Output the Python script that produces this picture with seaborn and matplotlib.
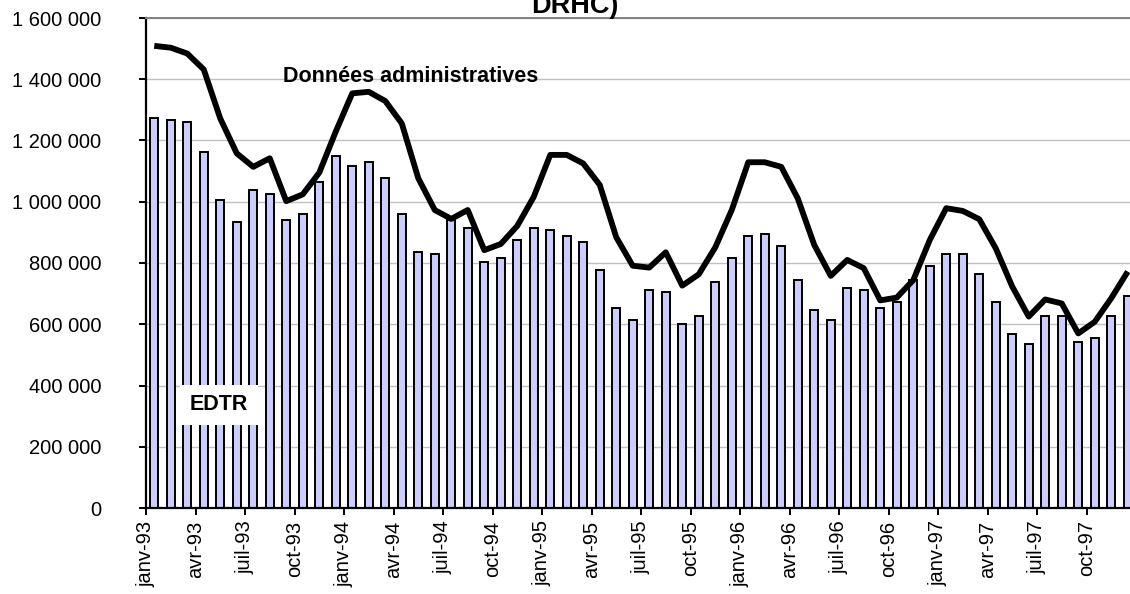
import numpy as np
import pandas as pd
import seaborn as sns
import matplotlib.pyplot as plt
from matplotlib.ticker import FuncFormatter

# Monthly values, janv-93 .. déc-97
mois = ["janv", "févr", "mars", "avr", "mai", "juin",
        "juil", "août", "sept", "oct", "nov", "déc"]
annees = ["93", "94", "95", "96", "97"]
labels = [f"{m}-{a}" for a in annees for m in mois]

edtr = [1272000, 1266000, 1259000, 1161000, 1005000, 933000, 1037000, 1024000, 939000, 959000, 1063000, 1148000,
        1116000, 1129000, 1076000, 959000, 835000, 828000, 940000, 913000, 802000, 815000, 874000, 913000,
        907000, 887000, 868000, 776000, 652000, 613000, 711000, 704000, 600000, 626000, 737000, 815000,
        887000, 894000, 855000, 744000, 646000, 613000, 717000, 711000, 652000, 672000, 743000, 789000,
        828000, 828000, 763000, 672000, 567000, 535000, 626000, 626000, 541000, 554000, 626000, 691000]

admin = [1509000, 1503000, 1484000, 1432000, 1272000, 1158000, 1114000, 1142000, 1002000, 1024000, 1095000, 1229000,
         1354000, 1359000, 1329000, 1256000, 1077000, 973000, 944000, 973000, 842000, 862000, 921000, 1016000,
         1153000, 1153000, 1125000, 1055000, 884000, 791000, 785000, 835000, 726000, 763000, 851000, 973000,
         1129000, 1129000, 1114000, 1011000, 859000, 758000, 810000, 783000, 678000, 687000, 744000, 875000,
         979000, 970000, 943000, 848000, 723000, 625000, 681000, 668000, 570000, 608000, 685000, 772000]

df = pd.DataFrame({"mois": labels, "pos": np.arange(len(labels)), "edtr": edtr, "admin": admin})

sns.set_theme(style="white")
plt.rcParams["font.family"] = ["Liberation Sans", "DejaVu Sans"]
plt.rcParams["text.color"] = "black"

W, H = 1130, 594
fig = plt.figure(figsize=(W / 100, H / 100), dpi=100)
ax = fig.add_axes([146 / W, 86 / H, 990 / W, 490 / H])

sns.barplot(data=df, x="pos", y="edtr", color="#CCCCFF", saturation=1, width=0.47,
            edgecolor="black", linewidth=1.4, ax=ax, zorder=2)
sns.lineplot(data=df, x="pos", y="admin", color="black", linewidth=4.2, ax=ax, zorder=3,
             solid_joinstyle="round", solid_capstyle="butt")

ax.set_xlim(-0.5, len(labels) - 0.5)
ax.set_ylim(0, 1600000)
ax.set_yticks(np.arange(0, 1600001, 200000))
ax.yaxis.set_major_formatter(FuncFormatter(lambda v, p: f"{int(v):,}".replace(",", " ")))
ax.set_xticks(np.arange(0, len(labels), 3) - 0.5)
ax.set_xticklabels(labels[::3], rotation=90)
ax.set_xlabel("")
ax.set_ylabel("")

ax.yaxis.grid(True, color="#C0C0C0", linewidth=1)
ax.set_axisbelow(True)
for s in ["left", "bottom"]:
    ax.spines[s].set_color("black")
    ax.spines[s].set_linewidth(1.6)
ax.spines["top"].set_color("#808080")
ax.spines["top"].set_linewidth(1.4)
ax.spines["right"].set_visible(False)

ax.tick_params(axis="y", which="major", left=True, length=5, width=1.4, color="black",
               pad=27, labelsize=14.5, labelcolor="black")
ax.tick_params(axis="x", which="major", bottom=True, length=5, width=1.4, color="black",
               pad=4, labelsize=14.5, labelcolor="black")

# annotations placed in figure pixels (origin top-left in the reference)
fig.text(283 / W, 1 - 77 / H, "Données administratives", fontsize=15.5, color="black",
         fontweight="bold", va="center", ha="left")
fig.text(219 / W, 1 - 405 / H, "EDTR", fontsize=15.5, fontweight="bold", color="black",
         va="center", ha="center", zorder=5,
         bbox=dict(boxstyle="square,pad=0.45", facecolor="white", edgecolor="none"))

fig.text(575 / W, 1 - 13 / H, "DRHC)", fontsize=19.5, fontweight="bold", color="black",
         ha="center", va="baseline")

fig.savefig("out.png", dpi=100)
